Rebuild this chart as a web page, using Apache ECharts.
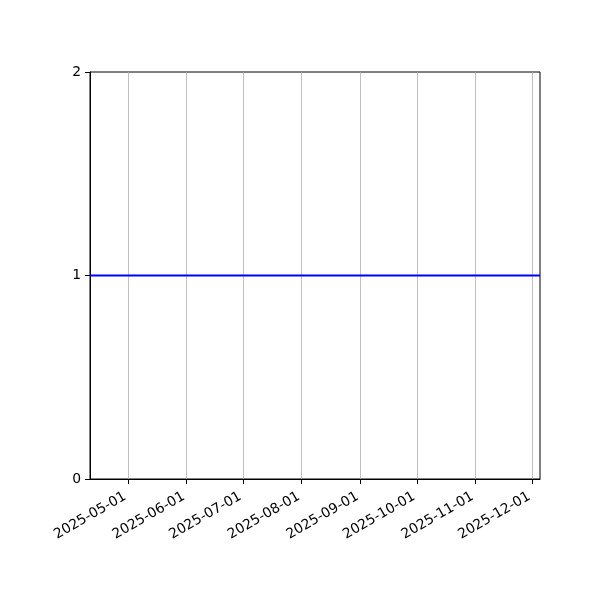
<!DOCTYPE html>
<html>
<head>
<meta charset="utf-8">
<script src="https://cdn.jsdelivr.net/npm/echarts@6/dist/echarts.min.js"></script>
<style>html,body{margin:0;padding:0;background:#fff}#c{width:600px;height:600px}</style>
</head>
<body>
<div id="c"></div>
<script>
// Data
var xLimits = ['2025-04-11T00:00:00Z', '2025-12-05T06:00:00Z'];
var lineDates = ['2025-04-11T00:00:00Z', '2025-12-05T06:00:00Z'];
var lineValues = [1, 1];
var monthTicks = ['2025-05-01', '2025-06-01', '2025-07-01', '2025-08-01', '2025-09-01', '2025-10-01', '2025-11-01', '2025-12-01'];
var yTicks = [0, 1, 2];

function ts(s) { return new Date(s.length === 10 ? s + 'T00:00:00Z' : s).getTime(); }
var tickTs = monthTicks.map(ts);
function fmt(v) {
  var d = new Date(v);
  var m = d.getUTCMonth() + 1, dd = d.getUTCDate();
  return d.getUTCFullYear() + '-' + (m < 10 ? '0' : '') + m + '-' + (dd < 10 ? '0' : '') + dd;
}

var chart = echarts.init(document.getElementById('c'), null, {renderer: 'canvas'});
var font = 'DejaVu Sans';
chart.setOption({
  animation: false,
  backgroundColor: '#ffffff',
  grid: {left: 90, right: 60, top: 72, bottom: 121, show: true, borderColor: '#000', borderWidth: 1, backgroundColor: 'transparent'},
  xAxis: {
    type: 'value',
    min: ts(xLimits[0]),
    max: ts(xLimits[1]),
    axisLine: {show: true, lineStyle: {color: '#000', width: 1}},
    axisTick: {show: true, length: 5, lineStyle: {color: '#000', width: 1}, customValues: tickTs},
    axisLabel: {show: true, customValues: tickTs, rotate: 30, margin: 15, padding: [0, 3, 0, 0], color: '#000', fontFamily: font, fontSize: 13.9,
      formatter: function (v) { return fmt(v); }},
    splitLine: {show: false}
  },
  yAxis: {
    type: 'value',
    min: yTicks[0],
    max: yTicks[yTicks.length - 1],
    interval: 1,
    axisLine: {show: true, lineStyle: {color: '#000', width: 1}},
    axisTick: {show: true, length: 5, lineStyle: {color: '#000', width: 1}},
    axisLabel: {color: '#000', fontFamily: font, fontSize: 13.9, margin: 9},
    splitLine: {show: false}
  },
  series: [
    {
      type: 'line',
      data: lineDates.map(function (d, i) { return [ts(d), lineValues[i]]; }),
      showSymbol: false,
      symbol: 'none',
      lineStyle: {color: '#0000ff', width: 2},
      z: 3,
      markLine: {
        silent: true,
        symbol: ['none', 'none'],
        label: {show: false},
        lineStyle: {color: '#b0b0b0', width: 0.8, type: 'solid'},
        data: tickTs.map(function (t) { return {xAxis: t}; }),
        z: 1
      }
    }
  ]
});
</script>
</body>
</html>
